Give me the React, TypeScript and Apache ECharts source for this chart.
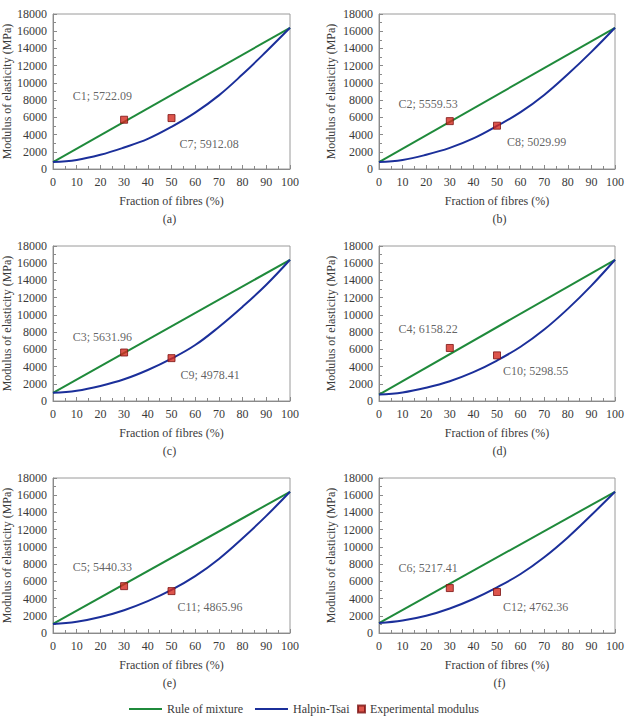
import React, { useEffect, useRef } from "react";
import * as echarts from "echarts";

// Fibre volume fraction (%) at which the Halpin-Tsai curve values are given
const FIBRE_FRACTION = [0, 10, 20, 30, 40, 50, 60, 70, 80, 90, 100];

const PANEL_TAGS = ["(a)", "(b)", "(c)", "(d)", "(e)", "(f)"];

// Rule of mixture: straight line between matrix (0 %) and fibre (100 %) modulus
const RULE_START = [800, 800, 950, 750, 1050, 1150];
const RULE_END = [16400, 16400, 16400, 16400, 16400, 16400];

// Halpin-Tsai predictions (MPa) per panel
const HALPIN_A = [800, 1050, 1650, 2500, 3500, 4900, 6550, 8550, 11000, 13650, 16400];
const HALPIN_B = [800, 1050, 1650, 2450, 3550, 5000, 6600, 8600, 11000, 13600, 16400];
const HALPIN_C = [950, 1200, 1750, 2520, 3600, 4920, 6500, 8600, 10950, 13500, 16400];
const HALPIN_D = [750, 1000, 1550, 2300, 3350, 4700, 6300, 8300, 10700, 13400, 16400];
const HALPIN_E = [1050, 1300, 1850, 2650, 3700, 5000, 6600, 8600, 11000, 13600, 16400];
const HALPIN_F = [1150, 1450, 2000, 2850, 3950, 5300, 6850, 8800, 11100, 13700, 16400];
const HALPIN = [HALPIN_A, HALPIN_B, HALPIN_C, HALPIN_D, HALPIN_E, HALPIN_F];

// Experimental specimens: fraction of fibres and measured modulus
const EXP_FRACTION = [30, 50];
const EXP_NAMES = [
  ["C1", "C7"],
  ["C2", "C8"],
  ["C3", "C9"],
  ["C4", "C10"],
  ["C5", "C11"],
  ["C6", "C12"],
];
const EXP_VALUES = [
  [5722.09, 5912.08],
  [5559.53, 5029.99],
  [5631.96, 4978.41],
  [6158.22, 5298.55],
  [5440.33, 4865.96],
  [5217.41, 4762.36],
];

const RULE_NAME = "Rule of mixture";
const HT_NAME = "Halpin-Tsai";
const EXP_NAME = "Experimental modulus";

// Layout of the 3x2 panel grid
const COL_LEFT = [49, 379];
const ROW_TOP = [14, 246, 478];
const Y_NAME_GAP = [40, 42];
const PLOT_W = 241;
const PLOT_H = 155;
// Data-label offsets (px) for the 30 % and 50 % labels in each panel
const LABEL_DY_FIRST = [-24, -17, -16, -19, -19, -20];
const LABEL_DY_SECOND = [26, 16, 17, 16, 16, 15];
const LABEL_DX_SECOND = [8, 10, 9, 6, 6, 6];

const FONT = "Liberation Serif";
const GREEN = "#1f8a3b";
const BLUE = "#1b2f9a";
const TEXT = "#3a3a3a";
const AXIS = "#8a8a8a";

export default function App() {
  const ref = useRef<HTMLDivElement>(null);

  useEffect(() => {
    if (!ref.current) return;
    const chart = echarts.init(ref.current, undefined, { renderer: "svg" });

    const grids: any[] = [];
    const xAxes: any[] = [];
    const yAxes: any[] = [];
    const series: any[] = [];
    const graphics: any[] = [];

    for (let i = 0; i < 6; i++) {
      const col = i % 2;
      const row = Math.floor(i / 2);
      const left = COL_LEFT[col];
      const top = ROW_TOP[row];
      grids.push({
        left,
        top,
        width: PLOT_W,
        height: PLOT_H,
        show: true,
        borderColor: "#9a9a9a",
        borderWidth: 1,
        backgroundColor: "#fff",
      });
      xAxes.push({
        type: "value",
        gridIndex: i,
        min: 0,
        max: 100,
        interval: 10,
        name: "Fraction of fibres (%)",
        nameLocation: "middle",
        nameGap: 26,
        nameTextStyle: { fontFamily: FONT, fontSize: 12, color: TEXT },
        axisLine: { show: true, onZero: false, lineStyle: { color: AXIS } },
        axisTick: { show: true, inside: true, length: 4, lineStyle: { color: AXIS } },
        minorTick: { show: true, splitNumber: 2, length: 3, lineStyle: { color: AXIS } },
        splitLine: { show: false },
        axisLabel: { fontFamily: FONT, fontSize: 12, color: TEXT, margin: 7 },
      });
      yAxes.push({
        type: "value",
        gridIndex: i,
        min: 0,
        max: 18000,
        interval: 2000,
        name: "Modulus of elasticity (MPa)",
        nameLocation: "middle",
        nameGap: Y_NAME_GAP[col],
        nameTextStyle: { fontFamily: FONT, fontSize: 12, color: TEXT },
        axisLine: { show: true, onZero: false, lineStyle: { color: AXIS } },
        axisTick: { show: true, inside: true, length: 4, lineStyle: { color: AXIS } },
        minorTick: { show: true, splitNumber: 2, length: 3, lineStyle: { color: AXIS } },
        splitLine: { show: false },
        axisLabel: {
          fontFamily: FONT,
          fontSize: 12,
          color: TEXT,
          margin: 6,
          formatter: (v: number) => String(v),
        },
      });

      series.push({
        name: RULE_NAME,
        type: "line",
        xAxisIndex: i,
        yAxisIndex: i,
        symbol: "none",
        showSymbol: false,
        lineStyle: { color: GREEN, width: 2 },
        itemStyle: { color: GREEN },
        data: [
          [FIBRE_FRACTION[0], RULE_START[i]],
          [FIBRE_FRACTION[FIBRE_FRACTION.length - 1], RULE_END[i]],
        ],
        z: 2,
      });
      series.push({
        name: HT_NAME,
        type: "line",
        xAxisIndex: i,
        yAxisIndex: i,
        symbol: "none",
        showSymbol: false,
        smooth: 0.4,
        lineStyle: { color: BLUE, width: 2 },
        itemStyle: { color: BLUE },
        data: FIBRE_FRACTION.map((x, k) => [x, HALPIN[i][k]]),
        z: 2,
      });
      series.push({
        name: EXP_NAME,
        type: "scatter",
        xAxisIndex: i,
        yAxisIndex: i,
        symbol: "rect",
        symbolSize: 7,
        itemStyle: { color: "#d42a1f", borderColor: "#7a1212", borderWidth: 1 },
        z: 5,
        data: EXP_FRACTION.map((x, k) => ({
          name: EXP_NAMES[i][k],
          value: [x, EXP_VALUES[i][k]],
          label: {
            show: true,
            position: "inside",
            align: k === 0 ? "right" : "left",
            verticalAlign: "middle",
            offset: k === 0 ? [8, LABEL_DY_FIRST[i]] : [LABEL_DX_SECOND[i], LABEL_DY_SECOND[i]],
          },
        })),
        label: {
          show: true,
          fontFamily: FONT,
          fontSize: 12,
          color: TEXT,
          formatter: (p: any) => `${p.name}; ${p.value[1].toFixed(2)}`,
        },
      });

      graphics.push({
        type: "text",
        x: left + PLOT_W / 2,
        y: top + PLOT_H + 50,
        style: {
          text: PANEL_TAGS[i],
          fontFamily: FONT,
          fontSize: 12,
          fill: TEXT,
          textAlign: "center",
          textVerticalAlign: "middle",
        },
      });
    }

    chart.setOption({
      animation: false,
      backgroundColor: "#fff",
      grid: grids,
      xAxis: xAxes,
      yAxis: yAxes,
      series,
      graphic: graphics,
      legend: [
        {
          left: 124,
          top: 698,
          itemWidth: 33,
          itemHeight: 2,
          itemGap: 12,
          data: [
            { name: RULE_NAME, icon: "rect" },
            { name: HT_NAME, icon: "rect" },
          ],
          textStyle: { fontFamily: FONT, fontSize: 12, color: TEXT },
        },
        {
          left: 352,
          top: 698,
          itemWidth: 7,
          itemHeight: 7,
          itemGap: 4,
          data: [{ name: EXP_NAME, icon: "rect" }],
          textStyle: { fontFamily: FONT, fontSize: 12, color: TEXT },
        },
      ],
    });

    return () => chart.dispose();
  }, []);

  return (
    <div
      ref={ref}
      style={{ position: "absolute", left: 0, top: 0, width: 627, height: 719 }}
    />
  );
}
